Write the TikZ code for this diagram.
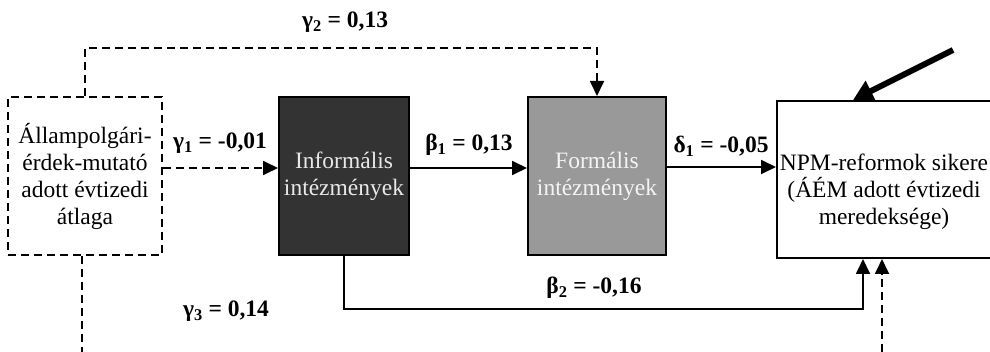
\documentclass[tikz,border=0pt]{standalone}
\usepackage{fontspec}
\setmainfont{Liberation Serif}
\usetikzlibrary{arrows.meta}
\definecolor{infgray}{HTML}{333333}
\definecolor{formgray}{HTML}{999999}
\definecolor{inftext}{HTML}{E8E8E8}
\definecolor{formtext}{HTML}{F4F4F4}
\begin{document}
\begin{tikzpicture}[x=1pt,y=-1pt,
  txt/.style={font=\fontsize{23.5}{27}\selectfont},
  box/.style={draw=black, line width=2pt, inner sep=0pt, align=center, txt},
  dashline/.style={dash pattern=on 8pt off 5pt},
  conn/.style={line width=1.8pt, -{Triangle[length=15pt,width=14pt]}},
  thinline/.style={line width=1.8pt},
  coef/.style={font=\fontsize{23.5}{27}\selectfont\bfseries, inner sep=0pt}]
\useasboundingbox (0,0) rectangle (990,352);
\clip (0,0) rectangle (990,352);
% boxes
\node[box, dashline, minimum width=154pt, minimum height=158pt] (cit) at (85,176)
  {Állampolgári-\\érdek-mutató\\adott évtizedi\\átlaga};
\node[box, fill=infgray, text=inftext, minimum width=130pt, minimum height=158pt] (inf) at (344,176)
  {Informális\\intézmények};
\node[box, fill=formgray, text=formtext, minimum width=138pt, minimum height=158pt] (form) at (597,176)
  {Formális\\intézmények};
\node[draw=black, line width=2pt, inner sep=0pt, minimum width=218pt, minimum height=157pt] (npm) at (886,179.5) {};
\node[txt, align=center, inner sep=0pt] (npmtext) at (884,192)
  {NPM-reformok sikere\\(ÁÉM adott évtizedi\\meredeksége)};
% connectors
\draw[conn, dashline] ([yshift=8pt]cit.east) -- ([yshift=8pt]inf.west);
\draw[conn] ([yshift=8pt]inf.east) -- ([yshift=8pt]form.west);
\draw[conn] ([yshift=9pt]form.east) -- ([yshift=9pt]form.east -| npm.west);
\draw[conn, dashline] (cit.north) -- ++(0,-48) -| (form.north);
\coordinate (b2x) at (863,309);
\draw[conn] (inf.south) |- (b2x) -- (b2x |- npm.south);
\coordinate (g3x) at (882,352);
\draw[conn, dashline] (g3x) -- (g3x |- npm.south);
\coordinate (citB) at (82,356);
\draw[thinline, dashline] (cit.south -| citB) -- (citB);
\coordinate (ext) at (953,50);
\coordinate (extTip) at (853,0);
\draw[line width=6pt, -{Triangle[length=20pt,width=22pt]}] (ext) -- (extTip |- npm.north);
% coefficients
\node[coef] (g2) at (345,22) {γ\textsubscript{2} = 0,13};
\node[coef] (g1) at (220,143) {γ\textsubscript{1} = -0,01};
\node[coef] (b1) at (469,145) {β\textsubscript{1} = 0,13};
\node[coef] (d1) at (721,146) {δ\textsubscript{1} = -0,05};
\node[coef] (g3) at (226,311) {γ\textsubscript{3} = 0,14};
\node[coef] (b2) at (594,288) {β\textsubscript{2} = -0,16};
\end{tikzpicture}
\end{document}
